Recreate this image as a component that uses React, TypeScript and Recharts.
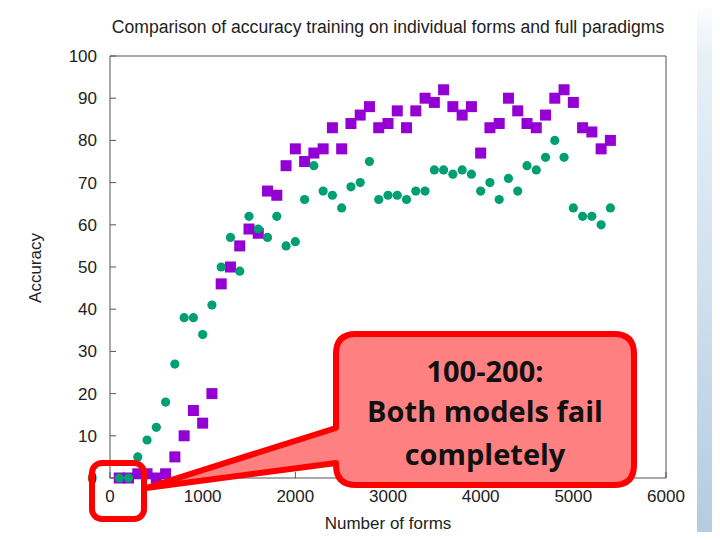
import { ScatterChart, Scatter, XAxis, YAxis } from 'recharts';

// number of training forms (x positions)
const forms = [
  100, 200, 300, 400, 500, 600, 700, 800, 900, 1000,
  1100, 1200, 1300, 1400, 1500, 1600, 1700, 1800, 1900, 2000,
  2100, 2200, 2300, 2400, 2500, 2600, 2700, 2800, 2900, 3000,
  3100, 3200, 3300, 3400, 3500, 3600, 3700, 3800, 3900, 4000,
  4100, 4200, 4300, 4400, 4500, 4600, 4700, 4800, 4900, 5000,
  5100, 5200, 5300, 5400,
];

// purple squares
const squareAcc = [
  0, 0, 1, 1, 0, 1, 5, 10, 16, 13,
  20, 46, 50, 55, 59, 58, 68, 67, 74, 78,
  75, 77, 78, 83, 78, 84, 86, 88, 83, 84,
  87, 83, 87, 90, 89, 92, 88, 86, 88, 77,
  83, 84, 90, 87, 84, 83, 86, 90, 92, 89,
  83, 82, 78, 80,
];

// green circles
const circleAcc = [
  0, 0, 5, 9, 12, 18, 27, 38, 38, 34,
  41, 50, 57, 49, 62, 59, 57, 62, 55, 56,
  66, 74, 68, 67, 64, 69, 70, 75, 66, 67,
  67, 66, 68, 68, 73, 73, 72, 73, 72, 68,
  70, 66, 71, 68, 74, 73, 76, 80, 76, 64,
  62, 62, 60, 64,
];

const xTicks = [0, 1000, 2000, 3000, 4000, 5000, 6000];
const yTicks = [0, 10, 20, 30, 40, 50, 60, 70, 80, 90, 100];

const squareData = forms.map((x, i) => ({ x, y: squareAcc[i] }));
const circleData = forms.map((x, i) => ({ x, y: circleAcc[i] }));

const PURPLE = '#9400d3';
const GREEN = '#009e73';
const AXIS = '#555';
const FONT = '"Liberation Sans", Arial, sans-serif';

const SquareMark = (p: any) => (
  <rect x={p.cx - 5.5} y={p.cy - 5.5} width={11} height={11} fill={PURPLE} />
);
const CircleMark = (p: any) => <circle cx={p.cx} cy={p.cy} r={4.6} fill={GREEN} />;
const NoMark = () => null;

// callout path: rounded box with a tail pointing at the origin
const callout =
  'M 356 334 H 614 Q 634 334 634 354 V 465 Q 634 485 614 485 H 356 Q 336 485 336 465 ' +
  'V 463 L 146 488 L 336 428 V 354 Q 336 334 356 334 Z';

export default function App() {
  const tickStyle = { fontSize: 17, fill: '#222', fontFamily: FONT };
  return (
    <div style={{ position: 'relative', width: 720, height: 540, margin: -8, overflow: 'hidden', background: '#fff' }}>
      <div
        style={{
          position: 'absolute', left: 697, top: 0, width: 23, height: 540,
          background: 'linear-gradient(180deg, #ffffff 0%, #e8f0f7 10%, #d2e1ee 50%, #b3cbe0 100%)',
        }}
      />
      <ScatterChart width={720} height={540} margin={{ top: 55, right: 53, bottom: 32, left: 60 }}>
        <XAxis
          type="number"
          dataKey="x"
          domain={[0, 6000]}
          ticks={xTicks}
          height={30}
          tickSize={-6}
          tickMargin={18}
          stroke={AXIS}
          tick={tickStyle}
          interval={0}
        />
        <XAxis
          xAxisId="top"
          orientation="top"
          type="number"
          dataKey="x"
          domain={[0, 6000]}
          ticks={xTicks}
          height={1}
          tickSize={-6}
          stroke={AXIS}
          tick={false}
          interval={0}
        />
        <YAxis
          type="number"
          dataKey="y"
          domain={[0, 100]}
          ticks={yTicks}
          width={50}
          tickSize={-6}
          tickMargin={19}
          stroke={AXIS}
          tick={tickStyle}
          interval={0}
        />
        <YAxis
          yAxisId="right"
          orientation="right"
          type="number"
          dataKey="y"
          domain={[0, 100]}
          ticks={yTicks}
          width={1}
          tickSize={-6}
          stroke={AXIS}
          tick={false}
          interval={0}
        />
        {/* mirror axes need a series bound to them so the gnuplot-style box gets drawn */}
        <Scatter data={squareData} xAxisId="top" yAxisId="right" shape={NoMark} isAnimationActive={false} />
        <Scatter data={squareData} shape={SquareMark} isAnimationActive={false} />
        <Scatter data={circleData} shape={CircleMark} isAnimationActive={false} />
      </ScatterChart>

      <div style={{ position: 'absolute', left: 0, top: 17, width: 776, textAlign: 'center', fontFamily: FONT, fontSize: 17.6, lineHeight: '20px', color: '#222' }}>
        Comparison of accuracy training on individual forms and full paradigms
      </div>
      <div style={{ position: 'absolute', left: 0, top: 514, width: 776, textAlign: 'center', fontFamily: FONT, fontSize: 17, lineHeight: '20px', color: '#222' }}>
        Number of forms
      </div>
      <div
        style={{
          position: 'absolute', left: 36, top: 268, transform: 'translate(-50%, -50%) rotate(-90deg)',
          fontFamily: FONT, fontSize: 17, lineHeight: '20px', color: '#222', whiteSpace: 'nowrap',
        }}
      >
        Accuracy
      </div>

      <svg width={720} height={540} style={{ position: 'absolute', left: 0, top: 0, pointerEvents: 'none' }}>
        <rect x={92} y={463} width={52} height={56} rx={10} fill="none" stroke="#ff0000" strokeWidth={6} />
        <path d={callout} fill="#ff8080" stroke="#ff0000" strokeWidth={6} strokeLinejoin="round" />
        <g fontFamily="'Open Sans', Lato, sans-serif" fontWeight="bold" fontSize={29} fill="#111" textAnchor="middle">
          <text x={485} y={382}>100-200:</text>
          <text x={485} y={422}>Both models fail</text>
          <text x={485} y={465}>completely</text>
        </g>
      </svg>
    </div>
  );
}
